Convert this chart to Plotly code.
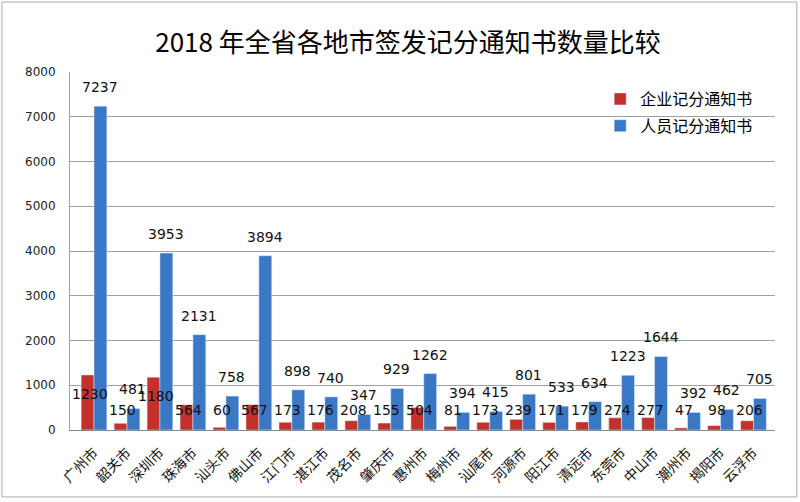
import plotly.graph_objects as go

cities = ["广州市", "韶关市", "深圳市", "珠海市", "汕头市", "佛山市", "江门市",
          "湛江市", "茂名市", "肇庆市", "惠州市", "梅州市", "汕尾市", "河源市",
          "阳江市", "清远市", "东莞市", "中山市", "潮州市", "揭阳市", "云浮市"]
enterprise = [1230, 150, 1180, 564, 60, 567, 173, 176, 208, 155, 504,
              81, 173, 239, 171, 179, 274, 277, 47, 98, 206]
personnel = [7237, 481, 3953, 2131, 758, 3894, 898, 740, 347, 929, 1262,
             394, 415, 801, 533, 634, 1223, 1644, 392, 462, 705]

font = "Noto Sans CJK SC, sans-serif"
label_font = dict(size=14, color="#111", family="DejaVu Sans, sans-serif")

fig = go.Figure()
fig.add_trace(go.Bar(
    x=cities, y=enterprise, name="企业记分通知书",
    marker_color="#C3312D", legendgroup="e",
))
fig.add_trace(go.Bar(
    x=cities, y=personnel, name="人员记分通知书",
    marker_color="#3A78C5", legendgroup="p",
))

# data labels as annotations so they sit on top of all bars (like Excel)
for city, e, p in zip(cities, enterprise, personnel):
    fig.add_annotation(x=city, y=max(450, e * 0.65), text=str(e),
                       xshift=-4, yanchor="middle", showarrow=False,
                       font=label_font)
    fig.add_annotation(x=city, y=p, text=str(p),
                       xshift=6, yanchor="bottom", yshift=9, showarrow=False,
                       font=label_font)

fig.update_layout(
    title=dict(text="2018 年全省各地市签发记分通知书数量比较",
               x=0.51, y=0.932, xanchor="center", yanchor="top",
               font=dict(size=26, color="#000", family=font)),
    font=dict(family=font, color="#111"),
    width=800, height=502,
    paper_bgcolor="white", plot_bgcolor="white",
    margin=dict(l=70, r=25, t=72, b=72),
    barmode="group", bargap=0.22, bargroupgap=0,
    showlegend=True,
    legend=dict(x=0.752, y=0.972, xanchor="left", yanchor="top",
                font=dict(size=16, color="#000"), bgcolor="rgba(0,0,0,0)",
                itemwidth=30, tracegroupgap=3),
)
fig.update_xaxes(tickangle=-45, tickfont=dict(size=14),
                 showline=True, linecolor="#888", ticks="",
                 ticklabelstandoff=8, automargin=False)
fig.update_yaxes(range=[0, 8000], dtick=1000,
                 tickfont=dict(size=12, color="#222", family="DejaVu Sans, sans-serif"),
                 showgrid=True, gridcolor="#a0a0a0", gridwidth=1,
                 showline=True, linecolor="#a0a0a0", zeroline=False,
                 ticklabelstandoff=11, automargin=False)
fig.add_shape(type="rect", xref="paper", yref="paper",
              x0=-0.0965, x1=1.031, y0=-0.187, y1=1.1955,
              line=dict(color="#aaa", width=1))

fig.write_html("out.html", config={"displayModeBar": False},
               post_script="document.body.style.margin='0';")
